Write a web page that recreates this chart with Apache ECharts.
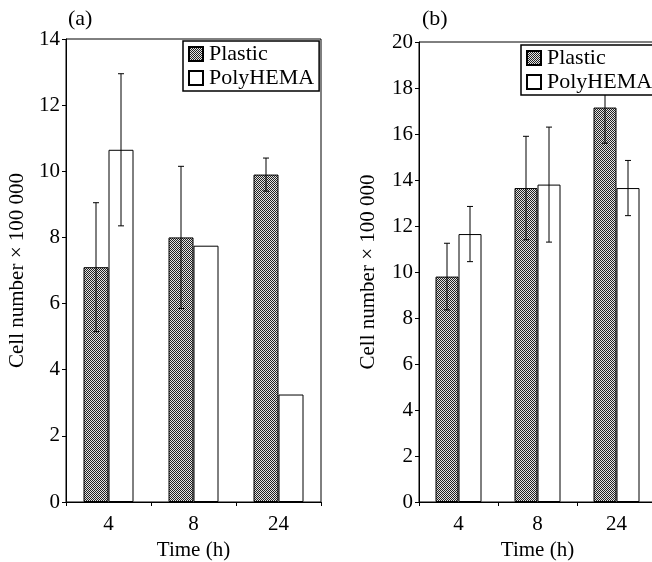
<!DOCTYPE html>
<html>
<head>
<meta charset="utf-8">
<script src="https://cdn.jsdelivr.net/npm/echarts@6/dist/echarts.min.js"></script>
<style>
  html, body { margin: 0; padding: 0; background: #fff; }
  #chart { width: 652px; height: 562px; }
</style>
</head>
<body>
<div id="chart"></div>
<script>
var categories = ['4', '8', '24'];

// panel (a)
var plasticA = [7.1, 8.0, 9.9];
var plasticAErr = [1.95, 2.15, 0.5];
var polyA = [10.65, 7.75, 3.25];
var polyAErr = [2.3, 0, 0];

// panel (b)
var plasticB = [9.8, 13.65, 17.15];
var plasticBErr = [1.45, 2.25, 1.55];
var polyB = [11.65, 13.8, 13.65];
var polyBErr = [1.2, 2.5, 1.2];

var FONT = 'Liberation Serif';
var FS = 21;
var BAR_A = 25;
var BAR_B = 23;

// checkered fill for the Plastic bars
var pat = document.createElement('canvas');
pat.width = 2;
pat.height = 2;
var pctx = pat.getContext('2d');
pctx.fillStyle = '#e4e4e4';
pctx.fillRect(0, 0, 2, 2);
pctx.fillStyle = '#222';
pctx.fillRect(0, 0, 1, 1);
pctx.fillRect(1, 1, 1, 1);
var checker = { image: pat, repeat: 'repeat' };

function errData(mean, err) {
	var out = [];
	for (var i = 0; i < mean.length; i++) {
		if (err[i] > 0) {
			out.push([i, mean[i] - err[i], mean[i] + err[i]]);
		}
	}
	return out;
}

function errSeries(idx, mean, err, offset) {
	return {
		type: 'custom',
		xAxisIndex: idx,
		yAxisIndex: idx,
		z: 3,
		silent: true,
		data: errData(mean, err),
		renderItem: function (params, api) {
			var lo = api.coord([api.value(0), api.value(1)]);
			var hi = api.coord([api.value(0), api.value(2)]);
			var x = lo[0] + offset;
			var s = { stroke: '#000', lineWidth: 1 };
			return {
				type: 'group',
				children: [
					{ type: 'line', shape: { x1: x, y1: lo[1], x2: x, y2: hi[1] }, style: s },
					{ type: 'line', shape: { x1: x - 3, y1: lo[1], x2: x + 3, y2: lo[1] }, style: s },
					{ type: 'line', shape: { x1: x - 3, y1: hi[1], x2: x + 3, y2: hi[1] }, style: s }
				]
			};
		}
	};
}

function xAxis(idx) {
	return {
		type: 'category',
		gridIndex: idx,
		data: categories,
		name: 'Time (h)',
		nameLocation: 'middle',
		nameGap: 30,
		nameTextStyle: { fontFamily: FONT, fontSize: FS, color: '#000' },
		axisLine: { lineStyle: { color: '#000', width: 1 } },
		axisTick: { show: true, length: 4, lineStyle: { color: '#000' } },
		axisLabel: { fontFamily: FONT, fontSize: FS, color: '#000', margin: 12 }
	};
}

function yAxis(idx, max, gap) {
	return {
		type: 'value',
		gridIndex: idx,
		min: 0,
		max: max,
		interval: 2,
		name: 'Cell number \u00d7 100 000',
		nameLocation: 'middle',
		nameGap: gap,
		nameTextStyle: { fontFamily: FONT, fontSize: FS, color: '#000' },
		splitLine: { show: false },
		axisLine: { show: true, lineStyle: { color: '#000', width: 1 } },
		axisTick: { show: true, length: 4, lineStyle: { color: '#000' } },
		axisLabel: { fontFamily: FONT, fontSize: FS, color: '#000', margin: 6 }
	};
}

function legend(left, top) {
	return {
		left: left,
		top: top,
		z: 10,
		orient: 'vertical',
		data: ['Plastic', 'PolyHEMA'],
		backgroundColor: '#fff',
		borderColor: '#000',
		borderWidth: 1.5,
		borderRadius: 0,
		padding: [2, 5, 2, 5],
		itemGap: 2,
		itemWidth: 14,
		itemHeight: 14,
		icon: 'rect',
		selectedMode: false,
		textStyle: { fontFamily: FONT, fontSize: 22, color: '#000', padding: [0, 0, 0, 1] }
	};
}

function bars(idx, name, values, fill, width) {
	return {
		name: name,
		type: 'bar',
		xAxisIndex: idx,
		yAxisIndex: idx,
		data: values,
		barWidth: width,
		barGap: '0%',
		itemStyle: { color: fill, borderColor: '#000', borderWidth: 1 },
		emphasis: { disabled: true }
	};
}

var chart = echarts.init(document.getElementById('chart'), null, { renderer: 'canvas' });
chart.setOption({
	animation: false,
	backgroundColor: '#fff',
	title: [
		{ text: '(a)', left: 63, top: 3, textStyle: { fontFamily: FONT, fontSize: 22, fontWeight: 'normal', color: '#000' } },
		{ text: '(b)', left: 417, top: 3, textStyle: { fontFamily: FONT, fontSize: 22, fontWeight: 'normal', color: '#000' } }
	],
	legend: [legend(183, 41), legend(521, 45)],
	grid: [
		{ left: 66, top: 39, width: 255, height: 463, show: true, borderColor: '#000', borderWidth: 1, outerBoundsMode: 'none' },
		{ left: 419, top: 42, width: 237, height: 460, show: true, borderColor: '#000', borderWidth: 1, outerBoundsMode: 'none' }
	],
	xAxis: [xAxis(0), xAxis(1)],
	yAxis: [yAxis(0, 14, 38), yAxis(1, 20, 40)],
	series: [
		bars(0, 'Plastic', plasticA, checker, BAR_A),
		bars(0, 'PolyHEMA', polyA, '#fff', BAR_A),
		bars(1, 'Plastic', plasticB, checker, BAR_B),
		bars(1, 'PolyHEMA', polyB, '#fff', BAR_B),
		errSeries(0, plasticA, plasticAErr, -BAR_A / 2),
		errSeries(0, polyA, polyAErr, BAR_A / 2),
		errSeries(1, plasticB, plasticBErr, -BAR_B / 2),
		errSeries(1, polyB, polyBErr, BAR_B / 2)
	]
});
</script>
</body>
</html>
